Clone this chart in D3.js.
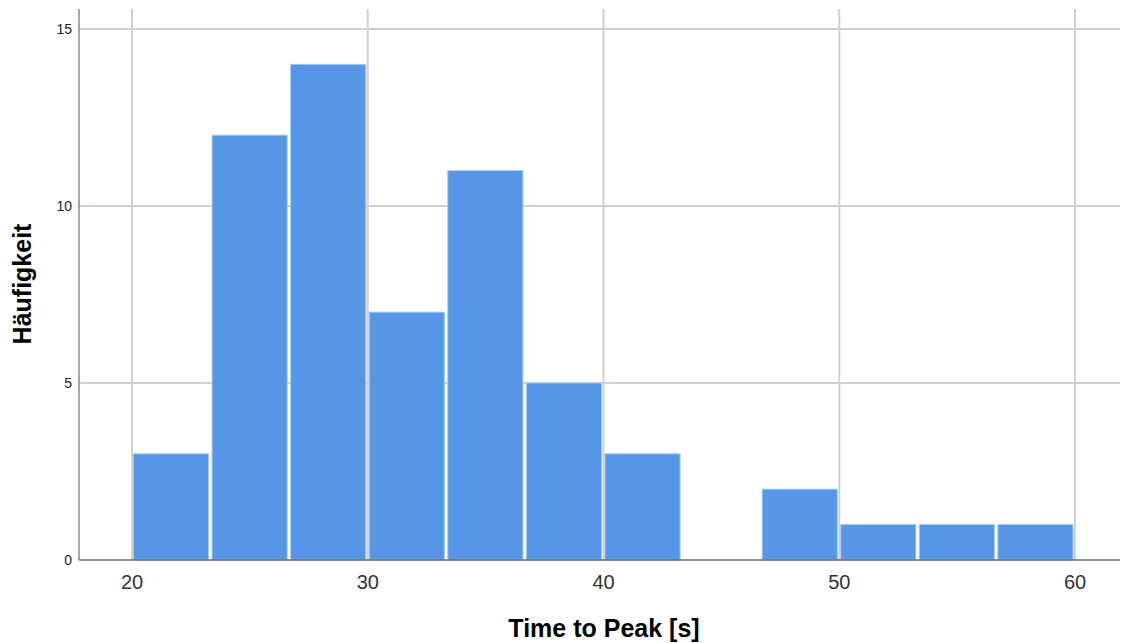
<!DOCTYPE html>
<html>
<head>
<meta charset="utf-8">
<script src="https://cdn.jsdelivr.net/npm/d3@7/dist/d3.min.js"></script>
<style>
  html, body { margin: 0; padding: 0; background: #fff; }
  svg { display: block; font-family: Arial, "Liberation Sans", sans-serif; }
</style>
</head>
<body>
<svg id="chart" width="1122" height="643"></svg>
<script>
// Histogram bins (seconds) and counts
const binStarts = [20, 23.333, 26.667, 30, 33.333, 36.667, 40, 43.333, 46.667, 50, 53.333, 56.667];
const binWidth = 40 / 12;
const counts = [3, 12, 14, 7, 11, 5, 3, 0, 2, 1, 1, 1];
const xTicks = [20, 30, 40, 50, 60];
const yTicks = [0, 5, 10, 15];

const svg = d3.select("#chart");
const plot = { left: 79, right: 1120, top: 9, bottom: 560 };

const x = d3.scaleLinear().domain([20, 60]).range([132, 1075]);
const y = d3.scaleLinear().domain([0, 15]).range([plot.bottom, 29]);

// grid lines
svg.append("g").selectAll("line").data(xTicks).join("line")
  .attr("x1", d => x(d)).attr("x2", d => x(d))
  .attr("y1", plot.top).attr("y2", plot.bottom)
  .attr("stroke", "#d0d0d0").attr("stroke-width", 2);
svg.append("g").selectAll("line").data(yTicks.filter(d => d > 0)).join("line")
  .attr("x1", plot.left).attr("x2", plot.right)
  .attr("y1", d => y(d)).attr("y2", d => y(d))
  .attr("stroke", "#d0d0d0").attr("stroke-width", 2);

// bars
const bars = binStarts.map((s, i) => ({ x0: s, x1: s + binWidth, n: counts[i] })).filter(d => d.n > 0);
svg.append("g").selectAll("rect").data(bars).join("rect")
  .attr("x", d => x(d.x0) + 1.5)
  .attr("width", d => x(d.x1) - x(d.x0) - 3.5)
  .attr("y", d => y(d.n))
  .attr("height", d => y(0) - y(d.n))
  .attr("fill", "#5596e6")
  .attr("stroke", "#a4c6f1")
  .attr("stroke-width", 1);

// axis lines
svg.append("line").attr("x1", plot.left).attr("x2", plot.left)
  .attr("y1", plot.top).attr("y2", plot.bottom)
  .attr("stroke", "#8a8a8a").attr("stroke-width", 1.5);
svg.append("line").attr("x1", plot.left).attr("x2", plot.right)
  .attr("y1", plot.bottom).attr("y2", plot.bottom)
  .attr("stroke", "#6e6e6e").attr("stroke-width", 1.5);

// tick labels
svg.append("g").selectAll("text").data(yTicks).join("text")
  .attr("x", 72).attr("y", d => y(d))
  .attr("dy", "0.35em").attr("text-anchor", "end")
  .attr("font-size", 14).attr("fill", "#222")
  .text(d => d);
svg.append("g").selectAll("text").data(xTicks).join("text")
  .attr("x", d => x(d)).attr("y", 582)
  .attr("dy", "0.35em").attr("text-anchor", "middle")
  .attr("font-size", 20).attr("fill", "#333")
  .text(d => d);

// axis titles
svg.append("text")
  .attr("x", 604).attr("y", 628).attr("dy", "0.35em")
  .attr("text-anchor", "middle").attr("font-size", 25).attr("font-weight", "bold")
  .attr("fill", "#000").text("Time to Peak [s]");
svg.append("text")
  .attr("transform", "translate(22,284) rotate(-90)")
  .attr("dy", "0.35em")
  .attr("text-anchor", "middle").attr("font-size", 25).attr("font-weight", "bold")
  .attr("fill", "#000").text("Häufigkeit");
</script>
</body>
</html>
